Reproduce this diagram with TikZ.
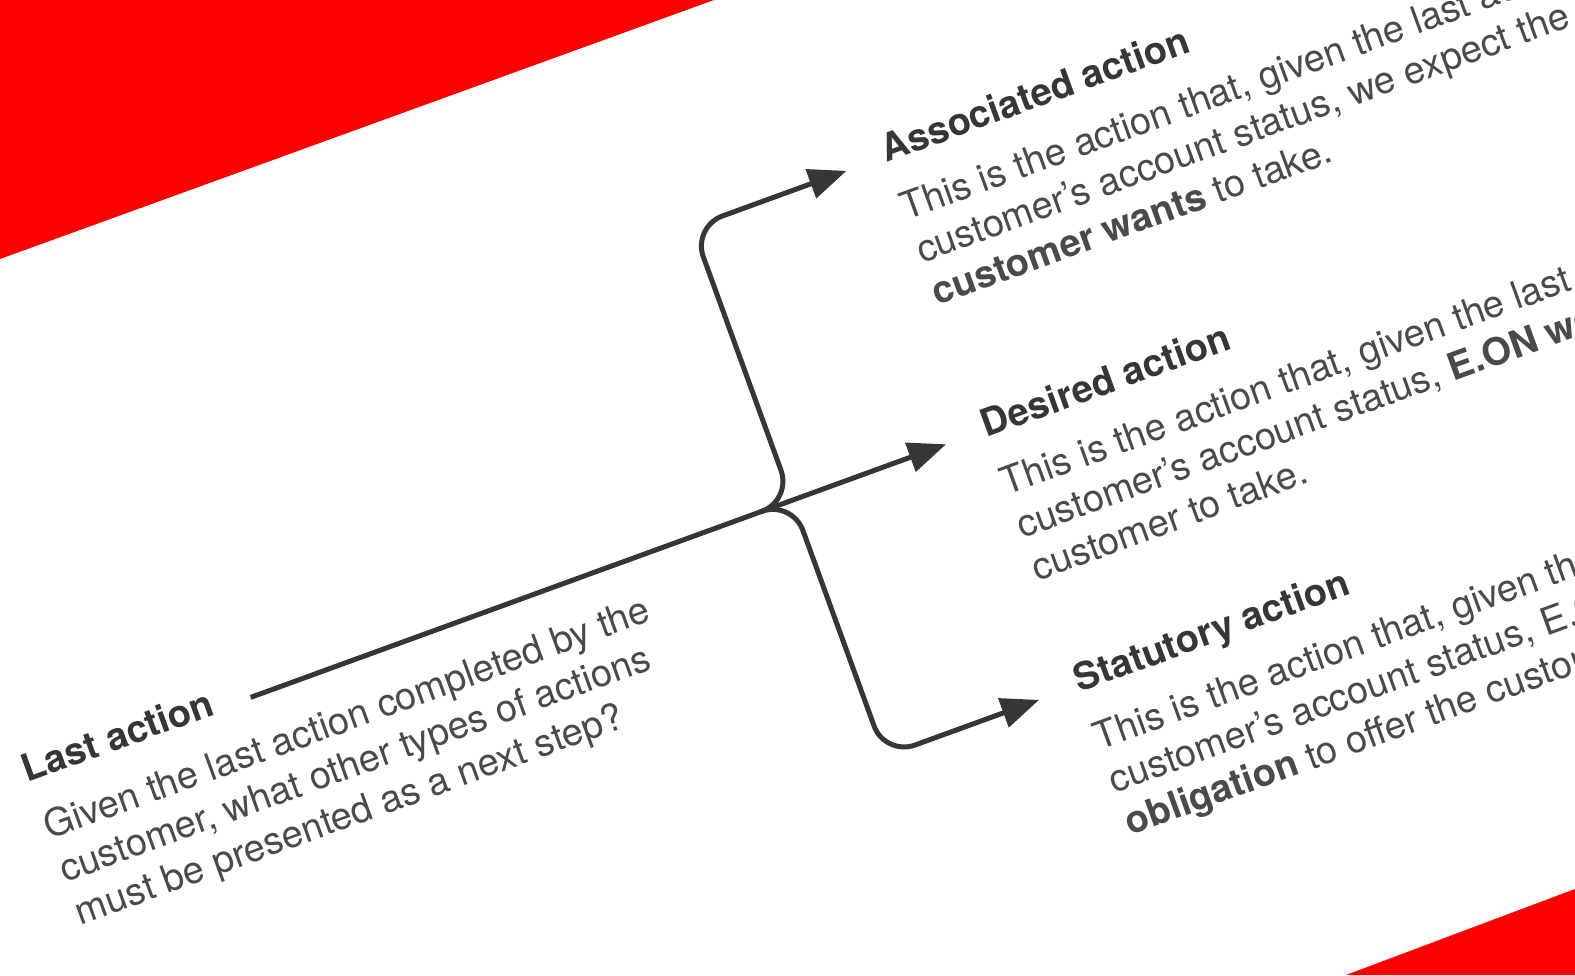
\documentclass[tikz,border=0pt]{standalone}
\usepackage{fontspec}
\setmainfont{TeX Gyre Heros}
\usetikzlibrary{arrows.meta}
\definecolor{ink}{HTML}{363636}
\definecolor{bodyink}{HTML}{4A4A4A}
\definecolor{eonred}{HTML}{FF0000}
\begin{document}
\begin{tikzpicture}[x=0.5pt,y=-0.5pt,
  conn/.style={draw=ink, line width=2.5pt},
  arr/.style={conn, -{Triangle[length=19pt,width=15pt]}},
  ttl/.style={anchor=base west, inner sep=0pt, text=ink, font=\fontsize{19}{22.7}\selectfont\bfseries},
  txt/.style={anchor=base west, inner sep=0pt, text=bodyink, font=\fontsize{19}{22.7}\selectfont, align=left}]
\useasboundingbox (0,0) rectangle (1575,975);
\clip (0,0) rectangle (1575,975);
\fill[eonred] (0,0) -- (714,0) -- (0,259) -- cycle;
\fill[eonred] (1346,975) -- (1575,889) -- (1575,975) -- cycle;
\begin{scope}[shift={(760,512)}, rotate=20, transform shape]
  \coordinate (J) at (0,0);
  \coordinate (L0) at (-542,0);
  \coordinate (aC) at (34,0);
  \coordinate (aTurn) at (34,-291);
  \coordinate (aEnd) at (198,-291);
  \coordinate (dEnd) at (198,0);
  \coordinate (sC) at (34,0);
  \coordinate (sTurn) at (34,272);
  \coordinate (sEnd) at (198,272);
  \draw[conn] (L0) -- (J);
  \draw[arr] (J) -- (dEnd);
  \draw[arr, rounded corners=16pt] (J) -- (aC) -- (aTurn) -- (aEnd);
  \draw[arr, rounded corners=16pt] (J) -- (sC) -- (sTurn) -- (sEnd);
  \node[ttl] (lastT) at (-781,4) {Last action};
  \node[txt] (lastB) at (-780,156) {Given the last action completed by the\\customer, what other types of actions\\must be presented as a next step?};
  \node[ttl] (assT) at (238,-285) {Associated action};
  \node[txt] (assB) at (237,-133) {This is the action that, given the last action and the\\customer’s account status, we expect the\\\textbf{customer wants} to take.};
  \node[ttl] (desT) at (238,8) {Desired action};
  \node[txt] (desB) at (237,160) {This is the action that, given the last action and the\\customer’s account status, \textbf{E.ON wants} the\\customer to take.};
  \node[ttl] (staT) at (238,279) {Statutory action};
  \node[txt] (staB) at (237,431) {This is the action that, given the last action and the\\customer’s account status, E.ON has a legal\\\textbf{obligation} to offer the customer.};
\end{scope}
\end{tikzpicture}
\end{document}
